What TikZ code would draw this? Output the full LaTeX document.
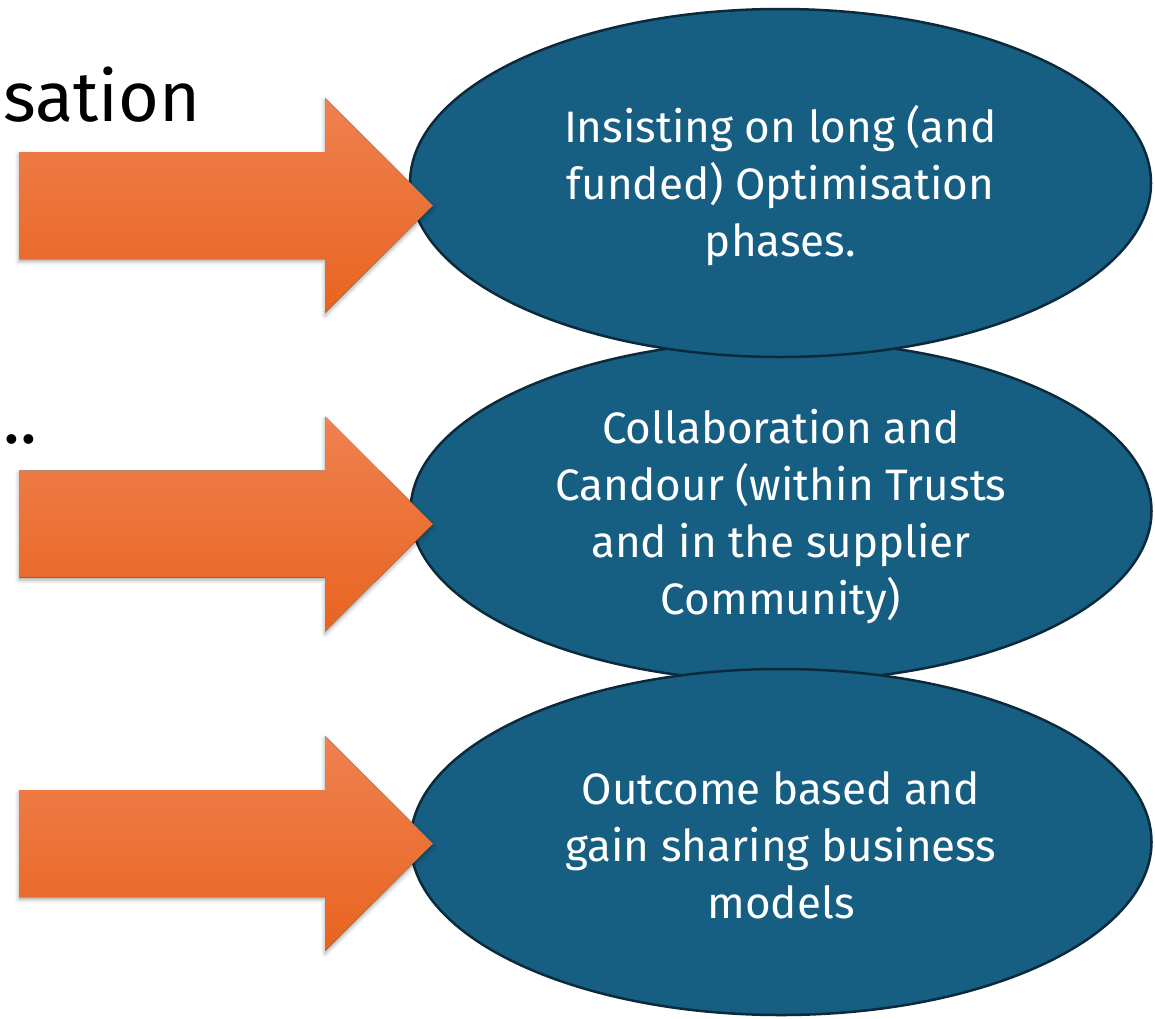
\documentclass[tikz,border=0pt]{standalone}
\usepackage{fontspec}
\setmainfont{Fira Sans}
\usetikzlibrary{shapes.geometric,shadows.blur}
\definecolor{ellfill}{HTML}{175F82}
\definecolor{elldraw}{HTML}{0B2A3C}
\definecolor{arrtop}{HTML}{EF8150}
\definecolor{arrbot}{HTML}{E8641F}
\begin{document}
\begin{tikzpicture}[x=1pt,y=-1pt,
  bubble/.style={ellipse, draw=elldraw, line width=2.5pt, fill=ellfill,
    minimum width=741pt, inner sep=0pt, outer sep=0pt},
  bubtext/.style={align=center, inner sep=0pt, text=white,
    font=\fontsize{44}{57}\selectfont},
  bigarrow/.style={top color=arrtop, bottom color=arrbot, draw=none,
    blur shadow={shadow xshift=0pt, shadow yshift=-2.5pt, shadow blur radius=4pt, shadow opacity=35}},
  frag/.style={anchor=base west, inner sep=0pt, text=black, font=\fontsize{70}{80}\selectfont}
]
\useasboundingbox (0,0) rectangle (1155,1018);
% ellipses (middle one underneath)
\node[bubble, minimum height=341pt] (e2) at (781,511) {};
\node[bubtext] (e2t) at ([yshift=-6pt]e2.center)
  {Collaboration and\\Candour (within Trusts\\and in the supplier\\Community)};
\node[bubble, minimum height=348pt] (e1) at (780.5,183) {};
\node[bubtext] (e1t) at ([yshift=-3pt]e1.center)
  {Insisting on long (and\\funded) Optimisation\\phases.};
\node[bubble, minimum height=346pt] (e3) at (781,842) {};
\node[bubtext] (e3t) at ([yshift=-3pt]e3.center)
  {Outcome based and\\gain sharing business\\models};
% block arrows
\foreach \cy/\nm in {205.5/a1, 524/a2, 843.5/a3}{
  \coordinate (\nm) at (433,\cy);
  \fill[bigarrow] (19,{\cy-53.5}) -- (325,{\cy-53.5}) -- (325,{\cy-107.5})
    -- (\nm) -- (325,{\cy+107.5}) -- (325,{\cy+53.5}) -- (19,{\cy+53.5}) -- cycle;
}
% cropped text fragments
\node[frag] (t1) at (3,121) {sation};
\node[frag] (t2) at (3,443) {..};
\end{tikzpicture}
\end{document}
